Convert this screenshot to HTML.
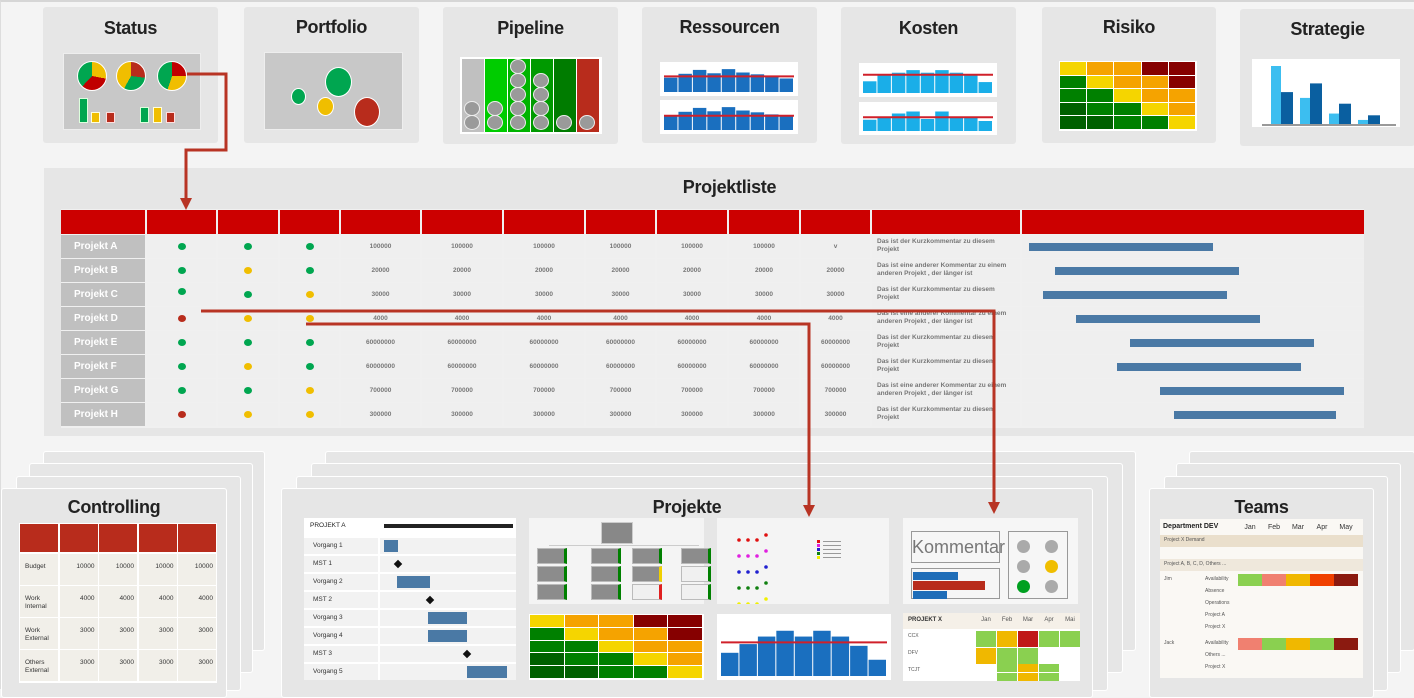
<!DOCTYPE html>
<html><head><meta charset="utf-8">
<style>
*{box-sizing:border-box;margin:0;padding:0}
body{width:1414px;height:689px;background:#f4f4f4;font-family:"Liberation Sans",sans-serif;position:relative;overflow:hidden;border-top:2px solid #d6d6d6;border-left:1px solid #ddd}
.a{position:absolute}
.card{position:absolute;background:#e6e6e6;border-radius:3px}
.title{position:absolute;font-weight:bold;font-size:18px;color:#222;text-align:center;width:100%;letter-spacing:-0.3px}
.thumb{position:absolute;background:#fff}
.t7{font-size:7px;color:#666;font-weight:bold}
</style></head><body>
<div id="root">
<!-- top tiles -->
<div class="card" style="left:42px;top:5px;width:175px;height:136px"><div class="title" style="top:11px">Status</div></div>
<div class="card" style="left:243px;top:5px;width:175px;height:136px"><div class="title" style="top:10px">Portfolio</div></div>
<div class="card" style="left:442px;top:5px;width:175px;height:137px"><div class="title" style="top:11px">Pipeline</div></div>
<div class="card" style="left:641px;top:5px;width:175px;height:136px"><div class="title" style="top:10px">Ressourcen</div></div>
<div class="card" style="left:840px;top:5px;width:175px;height:137px"><div class="title" style="top:11px">Kosten</div></div>
<div class="card" style="left:1041px;top:5px;width:174px;height:136px"><div class="title" style="top:10px">Risiko</div></div>
<div class="card" style="left:1239px;top:7px;width:175px;height:137px"><div class="title" style="top:10px">Strategie</div></div>

<!-- status thumb -->
<div class="a" style="left:62px;top:51px;width:138px;height:77px;background:#c8c8c8;border:1px solid #eee">
 <div class="a" style="left:13px;top:7px;width:30px;height:30px;border-radius:50%;border:1px solid #fff;background:conic-gradient(#f0be00 0 28%,#c00000 28% 62%,#00a650 62% 100%)"></div>
 <div class="a" style="left:52px;top:7px;width:30px;height:30px;border-radius:50%;border:1px solid #fff;background:conic-gradient(#b82c1c 0 27%,#00a650 27% 58%,#f0be00 58% 100%)"></div>
 <div class="a" style="left:93px;top:7px;width:30px;height:30px;border-radius:50%;border:1px solid #fff;background:conic-gradient(#c00000 0 25%,#f0be00 25% 55%,#00a650 55% 100%)"></div>
 <div class="a" style="left:15px;top:44px;width:9px;height:25px;background:#00a650;border:1px solid #dfd"></div>
 <div class="a" style="left:27px;top:58px;width:9px;height:11px;background:#f0be00;border:1px solid #ffd"></div>
 <div class="a" style="left:42px;top:58px;width:9px;height:11px;background:#b82c1c;border:1px solid #fdd"></div>
 <div class="a" style="left:76px;top:53px;width:9px;height:16px;background:#00a650;border:1px solid #dfd"></div>
 <div class="a" style="left:89px;top:53px;width:9px;height:16px;background:#f0be00;border:1px solid #ffd"></div>
 <div class="a" style="left:102px;top:58px;width:9px;height:11px;background:#b82c1c;border:1px solid #fdd"></div>
</div>
<!-- portfolio thumb -->
<div class="a" style="left:263px;top:50px;width:139px;height:78px;background:#c8c8c8;border:1px solid #eee">
 <div class="a" style="left:60px;top:14px;width:27px;height:30px;border-radius:50%;background:#00a650;border:1px solid #fff"></div>
 <div class="a" style="left:26px;top:35px;width:15px;height:17px;border-radius:50%;background:#00a650;border:1px solid #fff"></div>
 <div class="a" style="left:52px;top:44px;width:17px;height:19px;border-radius:50%;background:#f0be00;border:1px solid #fff"></div>
 <div class="a" style="left:89px;top:44px;width:26px;height:30px;border-radius:50%;background:#b82c1c;border:1px solid #fff"></div>
</div>
<!-- pipeline thumb -->
<div class="a" id="pipe" style="left:459px;top:55px;width:142px;height:77px;background:#fff;overflow:hidden"></div>
<!-- ressourcen & kosten -->
<svg class="a" id="res1" style="left:659px;top:60px" width="138" height="34"></svg>
<svg class="a" id="res2" style="left:659px;top:98px" width="138" height="34"></svg>
<svg class="a" id="kos1" style="left:858px;top:61px" width="138" height="34"></svg>
<svg class="a" id="kos2" style="left:858px;top:100px" width="138" height="33"></svg>
<div class="a" id="risk" style="left:1058px;top:59px;width:138px;height:70px;background:#fff"></div>
<svg class="a" id="strat" style="left:1251px;top:57px" width="148" height="68"></svg>

<!-- Projektliste -->
<div class="card" style="left:43px;top:166px;width:1371px;height:268px;border-radius:0"><div class="title" style="top:9px">Projektliste</div></div>
<div class="a" id="ptable" style="left:60px;top:207px;width:1303px;height:219px;background:#f0f0f0"></div>

<!-- bottom stacks -->
<div class="card" style="left:42px;top:449px;width:222px;height:200px;border:1px solid #fff"></div>
<div class="card" style="left:28px;top:461px;width:224px;height:210px;border:1px solid #fff"></div>
<div class="card" style="left:15px;top:474px;width:225px;height:215px;border:1px solid #fff"></div>
<div class="card" style="left:0px;top:486px;width:226px;height:210px;border:1px solid #fff"><div class="title" style="top:8px">Controlling</div></div>
<div class="a" id="ctrl" style="left:18px;top:521px;width:198px;height:160px;background:#fff"></div>

<div class="card" style="left:324px;top:449px;width:811px;height:200px;border:1px solid #fff"></div>
<div class="card" style="left:310px;top:461px;width:812px;height:210px;border:1px solid #fff"></div>
<div class="card" style="left:295px;top:474px;width:812px;height:215px;border:1px solid #fff"></div>
<div class="card" style="left:280px;top:486px;width:812px;height:210px;border:1px solid #fff"><div class="title" style="top:8px">Projekte</div></div>

<div class="card" style="left:1188px;top:449px;width:226px;height:200px;border:1px solid #fff"></div>
<div class="card" style="left:1175px;top:461px;width:225px;height:210px;border:1px solid #fff"></div>
<div class="card" style="left:1163px;top:474px;width:224px;height:215px;border:1px solid #fff"></div>
<div class="card" style="left:1148px;top:486px;width:225px;height:210px;border:1px solid #fff"><div class="title" style="top:8px">Teams</div></div>
<div class="a" id="teams" style="left:1159px;top:517px;width:203px;height:159px;background:#faf8f4"></div>

<!-- projekte thumbs -->
<div class="a" id="pg" style="left:303px;top:516px;width:212px;height:162px;background:#fff"></div>
<div class="a" id="org" style="left:528px;top:516px;width:175px;height:86px;background:#f4f4f4"></div>
<div class="a" id="risk2" style="left:528px;top:612px;width:175px;height:66px;background:#fff"></div>
<svg class="a" id="scat" style="left:716px;top:516px;background:#f4f4f4" width="172" height="86"></svg>
<svg class="a" id="pbar" style="left:716px;top:612px;background:#f4f4f4" width="174" height="66"></svg>
<div class="a" style="left:902px;top:516px;width:175px;height:86px;background:#f6f6f6">
 <div class="a" style="left:8px;top:13px;width:89px;height:32px;border:1px solid #999;font-size:18px;color:#777;text-align:center;line-height:30px">Kommentar</div>
 <div class="a" style="left:8px;top:50px;width:89px;height:31px;border:1px solid #999">
  <div class="a" style="left:1px;top:3px;width:45px;height:8px;background:#1f6db8"></div>
  <div class="a" style="left:1px;top:12px;width:72px;height:9px;background:#b82c1c"></div>
  <div class="a" style="left:1px;top:22px;width:34px;height:8px;background:#1f6db8"></div>
 </div>
 <div class="a" style="left:105px;top:13px;width:60px;height:68px;border:1px solid #999">
  <div class="a" style="left:8px;top:8px;width:13px;height:13px;border-radius:50%;background:#aaa"></div>
  <div class="a" style="left:36px;top:8px;width:13px;height:13px;border-radius:50%;background:#aaa"></div>
  <div class="a" style="left:8px;top:28px;width:13px;height:13px;border-radius:50%;background:#aaa"></div>
  <div class="a" style="left:36px;top:28px;width:13px;height:13px;border-radius:50%;background:#f0be00"></div>
  <div class="a" style="left:8px;top:48px;width:13px;height:13px;border-radius:50%;background:#00a020"></div>
  <div class="a" style="left:36px;top:48px;width:13px;height:13px;border-radius:50%;background:#aaa"></div>
 </div>
</div>
<div class="a" id="px" style="left:902px;top:611px;width:177px;height:68px;background:#fff"></div>

<!-- connectors -->
<svg class="a" style="left:0;top:0;pointer-events:none" width="1414" height="689">
 <g fill="none" stroke="#b83424" stroke-width="3">
  <polyline points="186,72 225,72 225,148 185,148 185,198"/>
  <polyline points="200,309 993,309 993,502"/>
  <polyline points="305,322 808,322 808,505"/>
 </g>
 <g fill="#b83424">
  <polygon points="179,196 191,196 185,208"/>
  <polygon points="987,500 999,500 993,512"/>
  <polygon points="802,503 814,503 808,515"/>
 </g>
</svg>
</div>
<script>
// ===== data =====
const projects=["Projekt A","Projekt B","Projekt C","Projekt D","Projekt E","Projekt F","Projekt G","Projekt H"];
const statusDots=[["g","g","g"],["g","y","g"],["g","g","y"],["r","y","y"],["g","g","g"],["g","y","g"],["g","g","y"],["r","y","y"]];
const rowValues=["100000","20000","30000","4000","60000000","60000000","700000","300000"];
const lastColValues=["v","20000","30000","4000","60000000","60000000","700000","300000"];
const comments=["Das ist der Kurzkommentar zu diesem Projekt","Das ist eine anderer Kommentar zu einem anderen Projekt , der länger ist","Das ist der Kurzkommentar zu diesem Projekt","Das ist eine anderer Kommentar zu einem anderen Projekt , der länger ist","Das ist der Kurzkommentar zu diesem Projekt","Das ist der Kurzkommentar zu diesem Projekt","Das ist eine anderer Kommentar zu einem anderen Projekt , der länger ist","Das ist der Kurzkommentar zu diesem Projekt"];
const ganttStart=[0,14,7.5,25.5,55,48,71,79];
const ganttLength=[100,100,100,100,100,100,100,88];
const res1Values=[55,70,85,72,88,75,68,60,52];
const res1Target=60;
const res2Values=[55,70,85,72,88,75,68,60,52];
const res2Target=55;
const kos1Values=[45,72,78,88,78,88,78,72,42];
const kos1Target=70;
const kos2Values=[45,52,70,78,48,78,52,58,40];
const kos2Target=55;
const stratLight=[100,45,18,7];
const stratDark=[55,70,35,15];
const riskGrid=[["y","o","o","d","d"],["g","y","o","o","d"],["g","g","y","o","o"],["k","g","g","y","o"],["k","k","g","g","y"]];
const pbarValues=[40,55,68,78,68,78,68,52,28];
const pbarTarget=58;
const pipelineCounts=[2,2,5,4,1,1];
const ctrlRows=["Budget","Work Internal","Work External","Others External"];
const ctrlValues=[10000,4000,3000,3000];
const vorgaenge=["Vorgang 1","MST 1","Vorgang 2","MST 2","Vorgang 3","Vorgang 4","MST 3","Vorgang 5"];
const vStart=[0,11,10,35,34,34,64,64];
const vLength=[11,0,25,0,30,30,0,31];

const NS="http://www.w3.org/2000/svg";
function div(parent,css,name,text){const el=document.createElement('div');el.className='a';el.style.cssText=css;


if(text!==undefined)el.textContent=text;parent.appendChild(el);return el;}
function rect(svg,x,y,w,h,fill,name){const r=document.createElementNS(NS,'rect');r.setAttribute('x',x);r.setAttribute('y',y);r.setAttribute('width',w);r.setAttribute('height',h);r.setAttribute('fill',fill);


svg.appendChild(r);return r;}
function line(svg,x1,y1,x2,y2,stroke,w,name){const l=document.createElementNS(NS,'line');l.setAttribute('x1',x1);l.setAttribute('y1',y1);l.setAttribute('x2',x2);l.setAttribute('y2',y2);l.setAttribute('stroke',stroke);l.setAttribute('stroke-width',w);


svg.appendChild(l);return l;}
const colorMap={g:"#00a650",y:"#f0be00",r:"#b82c1c"};
const riskColor={y:"#f5d500",o:"#f5a300",d:"#860000",g:"#008000",k:"#006000"};

// project table
const T=document.getElementById('ptable');
const colX=[0,86,157,219,280,361,443,525,596,668,740,811,961];
const colW=[84,69,60,59,79,80,80,69,70,70,69,148,342];
for(let c=0;c<colX.length;c++){div(T,`left:${colX[c]}px;top:1px;width:${colW[c]}px;height:24px;background:#cc0000`,'table-header-cell');}
const rowH=24;
const gScale=v=>7+v*1.84;
projects.forEach((p,i)=>{const y=26+i*rowH;
 div(T,`left:0;top:${y}px;width:84px;height:${rowH-1}px;background:#c0c0c0;color:#fff;font-size:10px;font-weight:bold;line-height:${rowH-1}px;padding-left:13px`,'project-name',p);
 for(let c=1;c<colX.length;c++)div(T,`left:${colX[c]}px;top:${y}px;width:${colW[c]}px;height:${rowH-1}px;background:#efefef`,'table-cell');
 statusDots[i].forEach((s,k)=>{const cx=colX[k+1]+colW[k+1]/2;const dy=(i==2&&k==0)?-3:0;
  div(T,`left:${cx-4}px;top:${y+8+dy}px;width:8px;height:7px;border-radius:50%;background:${colorMap[s]}`,'status-dot');});
 for(let c=4;c<11;c++){const v=c==10?lastColValues[i]:rowValues[i];
  div(T,`left:${colX[c]}px;top:${y}px;width:${colW[c]}px;line-height:${rowH-1}px;text-align:center;font-size:6.5px;color:#777;font-weight:bold`,'table-value',v);}
 div(T,`left:${colX[11]+5}px;top:${y+3}px;width:140px;font-size:6.5px;color:#777;font-weight:bold;line-height:8px`,'project-comment',comments[i]);
 div(T,`left:${colX[12]+gScale(ganttStart[i])}px;top:${y+8}px;width:${ganttLength[i]*1.84}px;height:8px;background:#4a79a5`,'gantt-bar');
});

// pipeline
const P=document.getElementById('pipe');
const pipeCols=["#c0c0c0","#00cc00","#00b400","#009a00","#007c00","#b82c1c"];
pipeCols.forEach((c,i)=>{div(P,`left:${2+i*23}px;top:2px;width:22px;height:73px;background:${c}`,'pipeline-column');
 for(let k=0;k<pipelineCounts[i];k++)div(P,`left:${4+i*23}px;top:${58-k*14}px;width:16px;height:15px;border-radius:50%;background:#9a9a9a;border:1px solid #eee`,'pipeline-item');});

function barChart(id,vals,target,color,W,H,name){const s=document.getElementById(id);rect(s,0,0,W,H,'#fff','chart-bg');
 const n=vals.length,pad=4,bw=(W-2*pad)/n,base=H-4,sc=v=>v/100*(H-8);
 vals.forEach((v,i)=>{const r=rect(s,pad+i*bw,base-sc(v),bw-1,sc(v),color,name);});
 line(s,pad,base-sc(target),W-pad,base-sc(target),'#d0202a',2,'target-line');}
barChart('res1',res1Values,res1Target,'#1a6fbf',138,34,'ressourcen-bar');
barChart('res2',res2Values,res2Target,'#1a6fbf',138,34,'ressourcen-bar');
barChart('kos1',kos1Values,kos1Target,'#1aaee8',138,34,'kosten-bar');
barChart('kos2',kos2Values,kos2Target,'#1aaee8',138,33,'kosten-bar');
barChart('pbar',pbarValues,pbarTarget,'#1a6fbf',174,66,'projekt-bar');

// strategie
const S=document.getElementById('strat');rect(S,0,0,148,68,'#fff','chart-bg');
stratLight.forEach((v,i)=>{const h=v*0.58;const x=19+i*29;
 rect(S,x,65-h,10,h,'#3cbef0','strategie-bar-light');rect(S,x+10,65-stratDark[i]*0.58,12,stratDark[i]*0.58,'#0a5fa0','strategie-bar-dark');});
line(S,10,66,144,66,'#999',2,'strategie-axis');

function heat(id,W,H,name){const R=document.getElementById(id);const cw=(W-2)/5,ch=(H-2)/5;
 riskGrid.forEach((row,r)=>row.forEach((c,k)=>div(R,`left:${1+k*cw}px;top:${1+r*ch}px;width:${cw-1}px;height:${ch-1}px;background:${riskColor[c]}`,name)));}
heat('risk',138,70,'risk-cell');heat('risk2',175,66,'risk-cell');

// controlling
const C=document.getElementById('ctrl');
for(let k=0;k<5;k++)div(C,`left:${1+k*39.5}px;top:1px;width:38px;height:28px;background:#b82c1c`,'controlling-header');
ctrlRows.forEach((r,i)=>{const y=31+i*32;
 for(let k=0;k<5;k++)div(C,`left:${1+k*39.5}px;top:${y}px;width:38px;height:31px;background:#f1efe9`,'controlling-cell');
 div(C,`left:6px;top:${y+9}px;width:34px;font-size:6.5px;color:#333;line-height:8px`,'controlling-label',r);
 for(let k=1;k<5;k++)div(C,`left:${1+k*39.5}px;top:${y+9}px;width:35px;font-size:6.5px;color:#333;text-align:right`,'controlling-value',String(ctrlValues[i]));});

// projekt gantt
const G=document.getElementById('pg');const gx=v=>80+v*1.3;
div(G,`left:0;top:0;width:74px;height:17px;background:#fff;font-size:6.5px;color:#222;padding:4px 6px`,'gantt-summary-label','PROJEKT A');
div(G,`left:80px;top:6px;width:129px;height:4px;background:#222`,'gantt-summary-bar');
vorgaenge.forEach((v,i)=>{const y=20+i*18;
 div(G,`left:0;top:${y}px;width:74px;height:16px;background:#f2f2f2;font-size:6.5px;color:#333;padding:4px 9px`,'gantt-task-label',v);
 div(G,`left:76px;top:${y}px;width:136px;height:16px;background:#f2f2f2`,'gantt-row');
 if(vLength[i]>0)div(G,`left:${gx(vStart[i])}px;top:${y+2}px;width:${vLength[i]*1.3}px;height:12px;background:#4a79a5`,'gantt-task-bar');
 else div(G,`left:${gx(vStart[i])-3}px;top:${y+5}px;width:6px;height:6px;background:#111;transform:rotate(45deg)`,'gantt-milestone');});

// org chart
const O=document.getElementById('org');
div(O,`left:72px;top:4px;width:32px;height:22px;background:#888;border:1px solid #ccc`,'org-node');
div(O,`left:20px;top:27px;width:150px;height:1px;background:#ccc`,'org-connector');
const orgX=[8,62,103,152],orgY=[30,48,66];
orgX.forEach((x,i)=>orgY.forEach((y,j)=>div(O,`left:${x}px;top:${y}px;width:30px;height:16px;background:${(i==3&&j>0)||(i==2&&j==2)?'#f0f0f0':'#8c8c8c'};border:1px solid #bbb;border-right:3px solid ${i==2&&j==1?'#f0d000':(i==2&&j==2?'#e02020':'#008000')}`,'org-node')));

// scatter
const SC=document.getElementById('scat');
const scatColors=["#e01010","#e020e0","#2020d0","#108010","#f0f000"];
scatColors.forEach((c,r)=>{for(let k=0;k<4;k++){const cx=22+k*9;const cy=22+r*16-(k==3?5:0);
 const e=document.createElementNS(NS,'circle');e.setAttribute('cx',cx);e.setAttribute('cy',cy);e.setAttribute('r',1.8);e.setAttribute('fill',c);
 
 SC.appendChild(e);}
 rect(SC,100,22+r*4,3,3,c,'scatter-legend-marker');rect(SC,106,23+r*4,18,1,'#999','scatter-legend-text');});

// projekt X table
const X=document.getElementById('px');
div(X,`left:0;top:0;width:177px;height:16px;background:#f5f0e8;font-size:6px;font-weight:bold;padding:4px 5px;color:#333`,'projekt-x-header','PROJEKT X');
["Jan","Feb","Mar","Apr","Mai"].forEach((m,i)=>div(X,`left:${73+i*21}px;top:4px;width:20px;font-size:6px;text-align:center;color:#555`,'month-label',m));
const pxCells=[["#8ad050","#f0b800","#c01818","#8ad050","#8ad050"],["#8ad050","#f0b800","#c01818","#8ad050","#8ad050"],["#f0b800","#8ad050","#8ad050","",""],["#f0b800","#8ad050","#8ad050","",""],["","#8ad050","#f0b800","#8ad050",""],["","#8ad050","#f0b800","#8ad050",""]];
pxCells.forEach((row,r)=>row.forEach((c,k)=>{if(c)div(X,`left:${73+k*21}px;top:${18+r*8.3}px;width:20px;height:8px;background:${c}`,'projekt-x-cell');}));
["CCX","DFV","TCJT"].forEach((t,i)=>div(X,`left:5px;top:${20+i*17}px;font-size:5px;color:#555`,'projekt-x-row',t));

// teams
const TM=document.getElementById('teams');
div(TM,`left:3px;top:4px;font-size:7px;font-weight:bold;color:#222`,'teams-dept','Department DEV');
["Jan","Feb","Mar","Apr","May"].forEach((m,i)=>div(TM,`left:${80+i*24}px;top:5px;width:20px;font-size:7px;text-align:center;color:#333`,'month-label',m));
div(TM,`left:0;top:16px;width:203px;height:12px;background:#eadfcc`,'teams-demand-row');
div(TM,`left:4px;top:18px;font-size:5px;color:#555`,'teams-text','Project X          Demand');
div(TM,`left:0;top:40px;width:203px;height:12px;background:#efe8dc`,'teams-others-row');
div(TM,`left:4px;top:42px;font-size:5px;color:#555`,'teams-text','Project A, B, C, D, Others ...');
const availJim=["#8ad050","#f08070","#f0b800","#f04000","#8b1a10"];
const availJack=["#f08070","#8ad050","#f0b800","#8ad050","#8b1a10"];
availJim.forEach((c,i)=>div(TM,`left:${78+i*24}px;top:55px;width:24px;height:12px;background:${c}`,'availability-cell'));
availJack.forEach((c,i)=>div(TM,`left:${78+i*24}px;top:119px;width:24px;height:12px;background:${c}`,'availability-cell'));
div(TM,`left:4px;top:57px;font-size:5px;color:#555`,'teams-text','Jim');
div(TM,`left:4px;top:121px;font-size:5px;color:#555`,'teams-text','Jack');
["Availability","Absence","Operations","Project A","Project X"].forEach((t,i)=>div(TM,`left:45px;top:${57+i*12}px;font-size:5px;color:#555`,'teams-text',t));
["Availability","Others ...","Project X"].forEach((t,i)=>div(TM,`left:45px;top:${121+i*12}px;font-size:5px;color:#555`,'teams-text',t));
</script>
</body></html>
